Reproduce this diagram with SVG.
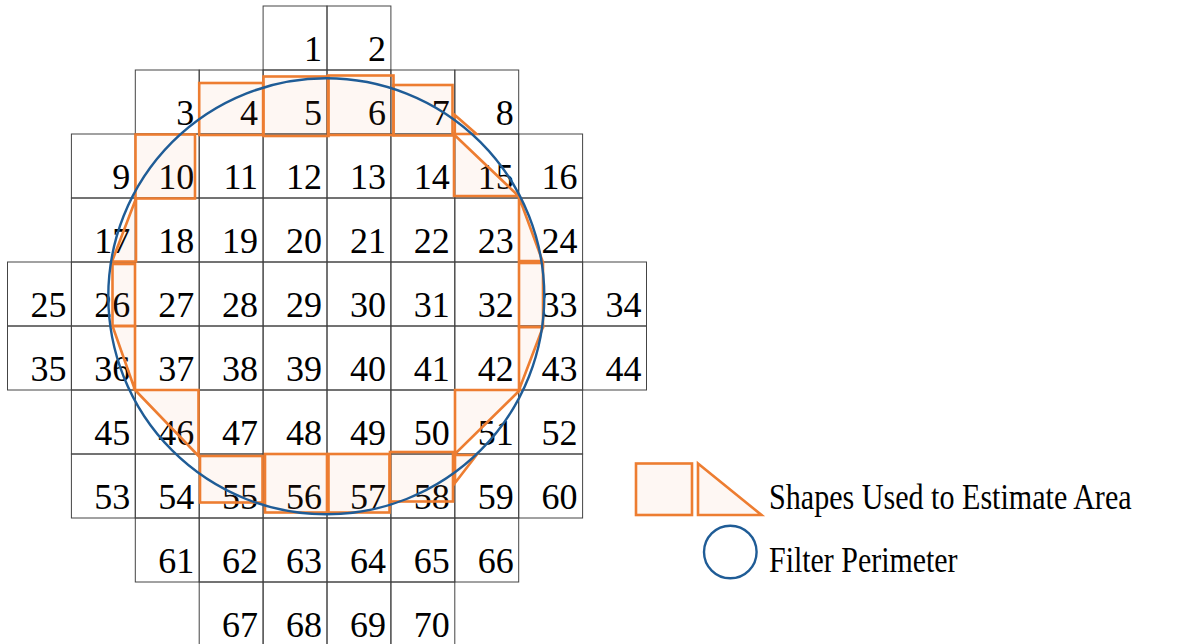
<svg xmlns="http://www.w3.org/2000/svg" width="1182" height="644" viewBox="0 0 1182 644">
<style>
.cell rect{fill:none;stroke:#444;stroke-width:1}
.cell text{font-family:"Liberation Serif","Times New Roman",serif;font-size:36px;fill:#000;text-anchor:end}
.est{fill:#ed7d31;fill-opacity:0.06;stroke:#ed7d31;stroke-width:2.6;stroke-linejoin:miter}
.per{fill:none;stroke:#1f5c96;stroke-width:2.4}
.lg{font-family:"Liberation Serif","Times New Roman",serif;font-size:35px;fill:#000}
</style>
<rect width="1182" height="644" fill="#fff"/>
<g id="grid">
<g id="cell-1" class="cell"><rect x="263.1" y="6" width="63.9" height="64"/><text x="322" y="60.5">1</text></g>
<g id="cell-2" class="cell"><rect x="327" y="6" width="63.9" height="64"/><text x="385.9" y="60.5">2</text></g>
<g id="cell-3" class="cell"><rect x="135.3" y="70" width="63.9" height="64"/><text x="194.2" y="124.5">3</text></g>
<g id="cell-4" class="cell"><rect x="199.2" y="70" width="63.9" height="64"/><text x="258.1" y="124.5">4</text></g>
<g id="cell-5" class="cell"><rect x="263.1" y="70" width="63.9" height="64"/><text x="322" y="124.5">5</text></g>
<g id="cell-6" class="cell"><rect x="327" y="70" width="63.9" height="64"/><text x="385.9" y="124.5">6</text></g>
<g id="cell-7" class="cell"><rect x="390.9" y="70" width="63.9" height="64"/><text x="449.8" y="124.5">7</text></g>
<g id="cell-8" class="cell"><rect x="454.8" y="70" width="63.9" height="64"/><text x="513.7" y="124.5">8</text></g>
<g id="cell-9" class="cell"><rect x="71.4" y="134" width="63.9" height="64"/><text x="130.3" y="188.5">9</text></g>
<g id="cell-10" class="cell"><rect x="135.3" y="134" width="63.9" height="64"/><text x="194.2" y="188.5">10</text></g>
<g id="cell-11" class="cell"><rect x="199.2" y="134" width="63.9" height="64"/><text x="258.1" y="188.5">11</text></g>
<g id="cell-12" class="cell"><rect x="263.1" y="134" width="63.9" height="64"/><text x="322" y="188.5">12</text></g>
<g id="cell-13" class="cell"><rect x="327" y="134" width="63.9" height="64"/><text x="385.9" y="188.5">13</text></g>
<g id="cell-14" class="cell"><rect x="390.9" y="134" width="63.9" height="64"/><text x="449.8" y="188.5">14</text></g>
<g id="cell-15" class="cell"><rect x="454.8" y="134" width="63.9" height="64"/><text x="513.7" y="188.5">15</text></g>
<g id="cell-16" class="cell"><rect x="518.7" y="134" width="63.9" height="64"/><text x="577.6" y="188.5">16</text></g>
<g id="cell-17" class="cell"><rect x="71.4" y="198" width="63.9" height="64"/><text x="130.3" y="252.5">17</text></g>
<g id="cell-18" class="cell"><rect x="135.3" y="198" width="63.9" height="64"/><text x="194.2" y="252.5">18</text></g>
<g id="cell-19" class="cell"><rect x="199.2" y="198" width="63.9" height="64"/><text x="258.1" y="252.5">19</text></g>
<g id="cell-20" class="cell"><rect x="263.1" y="198" width="63.9" height="64"/><text x="322" y="252.5">20</text></g>
<g id="cell-21" class="cell"><rect x="327" y="198" width="63.9" height="64"/><text x="385.9" y="252.5">21</text></g>
<g id="cell-22" class="cell"><rect x="390.9" y="198" width="63.9" height="64"/><text x="449.8" y="252.5">22</text></g>
<g id="cell-23" class="cell"><rect x="454.8" y="198" width="63.9" height="64"/><text x="513.7" y="252.5">23</text></g>
<g id="cell-24" class="cell"><rect x="518.7" y="198" width="63.9" height="64"/><text x="577.6" y="252.5">24</text></g>
<g id="cell-25" class="cell"><rect x="7.5" y="262" width="63.9" height="64"/><text x="66.4" y="316.5">25</text></g>
<g id="cell-26" class="cell"><rect x="71.4" y="262" width="63.9" height="64"/><text x="130.3" y="316.5">26</text></g>
<g id="cell-27" class="cell"><rect x="135.3" y="262" width="63.9" height="64"/><text x="194.2" y="316.5">27</text></g>
<g id="cell-28" class="cell"><rect x="199.2" y="262" width="63.9" height="64"/><text x="258.1" y="316.5">28</text></g>
<g id="cell-29" class="cell"><rect x="263.1" y="262" width="63.9" height="64"/><text x="322" y="316.5">29</text></g>
<g id="cell-30" class="cell"><rect x="327" y="262" width="63.9" height="64"/><text x="385.9" y="316.5">30</text></g>
<g id="cell-31" class="cell"><rect x="390.9" y="262" width="63.9" height="64"/><text x="449.8" y="316.5">31</text></g>
<g id="cell-32" class="cell"><rect x="454.8" y="262" width="63.9" height="64"/><text x="513.7" y="316.5">32</text></g>
<g id="cell-33" class="cell"><rect x="518.7" y="262" width="63.9" height="64"/><text x="577.6" y="316.5">33</text></g>
<g id="cell-34" class="cell"><rect x="582.6" y="262" width="63.9" height="64"/><text x="641.5" y="316.5">34</text></g>
<g id="cell-35" class="cell"><rect x="7.5" y="326" width="63.9" height="64"/><text x="66.4" y="380.5">35</text></g>
<g id="cell-36" class="cell"><rect x="71.4" y="326" width="63.9" height="64"/><text x="130.3" y="380.5">36</text></g>
<g id="cell-37" class="cell"><rect x="135.3" y="326" width="63.9" height="64"/><text x="194.2" y="380.5">37</text></g>
<g id="cell-38" class="cell"><rect x="199.2" y="326" width="63.9" height="64"/><text x="258.1" y="380.5">38</text></g>
<g id="cell-39" class="cell"><rect x="263.1" y="326" width="63.9" height="64"/><text x="322" y="380.5">39</text></g>
<g id="cell-40" class="cell"><rect x="327" y="326" width="63.9" height="64"/><text x="385.9" y="380.5">40</text></g>
<g id="cell-41" class="cell"><rect x="390.9" y="326" width="63.9" height="64"/><text x="449.8" y="380.5">41</text></g>
<g id="cell-42" class="cell"><rect x="454.8" y="326" width="63.9" height="64"/><text x="513.7" y="380.5">42</text></g>
<g id="cell-43" class="cell"><rect x="518.7" y="326" width="63.9" height="64"/><text x="577.6" y="380.5">43</text></g>
<g id="cell-44" class="cell"><rect x="582.6" y="326" width="63.9" height="64"/><text x="641.5" y="380.5">44</text></g>
<g id="cell-45" class="cell"><rect x="71.4" y="390" width="63.9" height="64"/><text x="130.3" y="444.5">45</text></g>
<g id="cell-46" class="cell"><rect x="135.3" y="390" width="63.9" height="64"/><text x="194.2" y="444.5">46</text></g>
<g id="cell-47" class="cell"><rect x="199.2" y="390" width="63.9" height="64"/><text x="258.1" y="444.5">47</text></g>
<g id="cell-48" class="cell"><rect x="263.1" y="390" width="63.9" height="64"/><text x="322" y="444.5">48</text></g>
<g id="cell-49" class="cell"><rect x="327" y="390" width="63.9" height="64"/><text x="385.9" y="444.5">49</text></g>
<g id="cell-50" class="cell"><rect x="390.9" y="390" width="63.9" height="64"/><text x="449.8" y="444.5">50</text></g>
<g id="cell-51" class="cell"><rect x="454.8" y="390" width="63.9" height="64"/><text x="513.7" y="444.5">51</text></g>
<g id="cell-52" class="cell"><rect x="518.7" y="390" width="63.9" height="64"/><text x="577.6" y="444.5">52</text></g>
<g id="cell-53" class="cell"><rect x="71.4" y="454" width="63.9" height="64"/><text x="130.3" y="508.5">53</text></g>
<g id="cell-54" class="cell"><rect x="135.3" y="454" width="63.9" height="64"/><text x="194.2" y="508.5">54</text></g>
<g id="cell-55" class="cell"><rect x="199.2" y="454" width="63.9" height="64"/><text x="258.1" y="508.5">55</text></g>
<g id="cell-56" class="cell"><rect x="263.1" y="454" width="63.9" height="64"/><text x="322" y="508.5">56</text></g>
<g id="cell-57" class="cell"><rect x="327" y="454" width="63.9" height="64"/><text x="385.9" y="508.5">57</text></g>
<g id="cell-58" class="cell"><rect x="390.9" y="454" width="63.9" height="64"/><text x="449.8" y="508.5">58</text></g>
<g id="cell-59" class="cell"><rect x="454.8" y="454" width="63.9" height="64"/><text x="513.7" y="508.5">59</text></g>
<g id="cell-60" class="cell"><rect x="518.7" y="454" width="63.9" height="64"/><text x="577.6" y="508.5">60</text></g>
<g id="cell-61" class="cell"><rect x="135.3" y="518" width="63.9" height="64"/><text x="194.2" y="572.5">61</text></g>
<g id="cell-62" class="cell"><rect x="199.2" y="518" width="63.9" height="64"/><text x="258.1" y="572.5">62</text></g>
<g id="cell-63" class="cell"><rect x="263.1" y="518" width="63.9" height="64"/><text x="322" y="572.5">63</text></g>
<g id="cell-64" class="cell"><rect x="327" y="518" width="63.9" height="64"/><text x="385.9" y="572.5">64</text></g>
<g id="cell-65" class="cell"><rect x="390.9" y="518" width="63.9" height="64"/><text x="449.8" y="572.5">65</text></g>
<g id="cell-66" class="cell"><rect x="454.8" y="518" width="63.9" height="64"/><text x="513.7" y="572.5">66</text></g>
<g id="cell-67" class="cell"><rect x="199.2" y="582" width="63.9" height="64"/><text x="258.1" y="636.5">67</text></g>
<g id="cell-68" class="cell"><rect x="263.1" y="582" width="63.9" height="64"/><text x="322" y="636.5">68</text></g>
<g id="cell-69" class="cell"><rect x="327" y="582" width="63.9" height="64"/><text x="385.9" y="636.5">69</text></g>
<g id="cell-70" class="cell"><rect x="390.9" y="582" width="63.9" height="64"/><text x="449.8" y="636.5">70</text></g>
</g>
<g id="estimate-shapes">
<rect class="est" x="199.2" y="83" width="63.9" height="52"/>
<rect class="est" x="263.5" y="76.5" width="65" height="59.5"/>
<rect class="est" x="328" y="75.5" width="65.5" height="59.5"/>
<rect class="est" x="393.5" y="85" width="59" height="50.5"/>
<polygon class="est" points="454.8,115 476.5,134 454.8,134"/>
<rect class="est" x="135.5" y="134.5" width="59.5" height="64"/>
<polygon class="est" points="454,134.5 518.5,196 454,196"/>
<polygon class="est" points="136,198.5 136,261.5 112,261.5"/>
<polygon class="est" points="519,197 542.5,261 519,261"/>
<rect class="est" x="112.5" y="264" width="22.5" height="62"/>
<rect class="est" x="519" y="263" width="24" height="64"/>
<polygon class="est" points="112.5,326 135,326 135,390"/>
<polygon class="est" points="519,327 543,327 519,390"/>
<polygon class="est" points="135,390 198.5,390 198.5,456"/>
<polygon class="est" points="455,390 520,390 455,454"/>
<polygon class="est" points="455,455 476.5,455 455,483"/>
<rect class="est" x="200" y="456" width="62.5" height="46.5"/>
<rect class="est" x="265" y="454" width="62" height="58.5"/>
<rect class="est" x="328.5" y="454" width="61" height="58.5"/>
<rect class="est" x="390" y="452" width="63" height="49.5"/>
</g>
<circle id="filter-perimeter" class="per" cx="326.3" cy="296.3" r="218"/>
<g id="legend">
<g id="legend-shapes">
<rect class="est" x="636" y="463.5" width="56" height="51.5"/>
<polygon class="est" points="698,463.5 761.5,515 698,515"/>
<text class="lg" transform="translate(769,508.5) scale(0.86,1)">Shapes Used to Estimate Area</text>
</g>
<g id="legend-perimeter">
<circle class="per" cx="730.3" cy="552" r="26.3"/>
<text class="lg" transform="translate(769,571.5) scale(0.855,1)">Filter Perimeter</text>
</g>
</g>
</svg>
